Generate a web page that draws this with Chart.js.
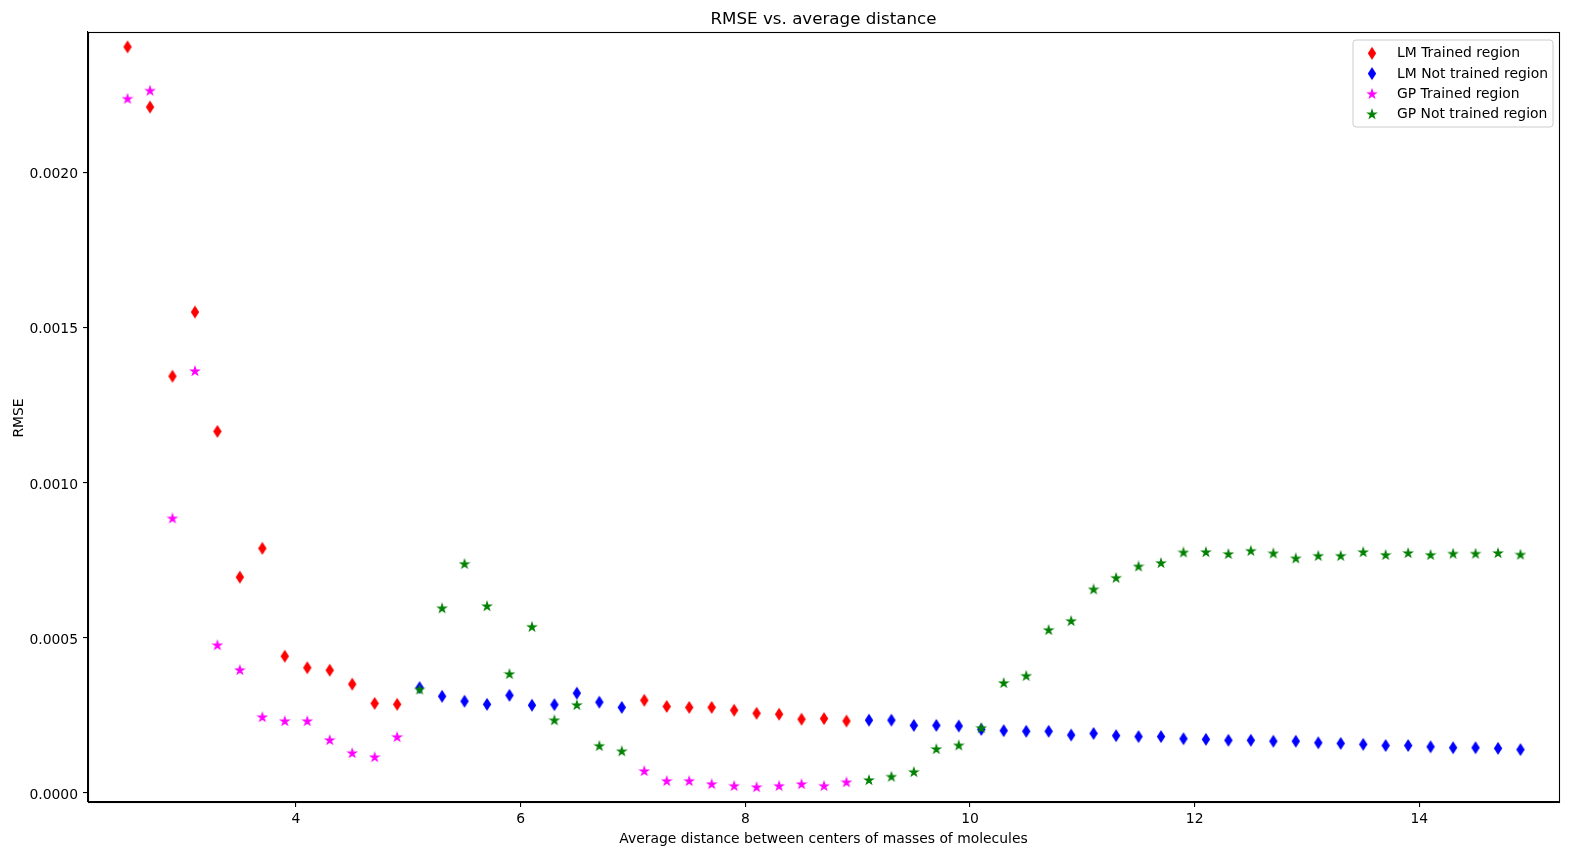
<!DOCTYPE html>
<html>
<head>
<meta charset="utf-8">
<script src="https://cdn.jsdelivr.net/npm/chart.js@4/dist/chart.umd.min.js"></script>
<style>
html,body{margin:0;padding:0;background:#fff;}
#wrap{width:1574px;height:855px;position:relative;}
</style>
</head>
<body>
<div id="wrap"><canvas id="c" width="1574" height="855"></canvas></div>
<script>
const xTrained = [2.5,2.7,2.9,3.1,3.3,3.5,3.7,3.9,4.1,4.3,4.5,4.7,4.9,7.1,7.3,7.5,7.7,7.9,8.1,8.3,8.5,8.7,8.9];
const xNotTrained = [5.1,5.3,5.5,5.7,5.9,6.1,6.3,6.5,6.7,6.9,9.1,9.3,9.5,9.7,9.9,10.1,10.3,10.5,10.7,10.9,11.1,11.3,11.5,11.7,11.9,12.1,12.3,12.5,12.7,12.9,13.1,13.3,13.5,13.7,13.9,14.1,14.3,14.5,14.7,14.9];

const lmTrained = [0.002406,0.002212,0.001344,0.001551,0.001166,0.000696,0.000789,0.000441,0.000404,0.000396,0.000351,0.000289,0.000286,0.000299,0.000279,0.000276,0.000276,0.000267,0.000257,0.000254,0.000238,0.00024,0.000232];
const lmNotTrained = [0.00034,0.000312,0.000296,0.000286,0.000315,0.000283,0.000285,0.000322,0.000293,0.000276,0.000235,0.000235,0.000218,0.000218,0.000216,0.000205,0.000201,0.000199,0.000199,0.000187,0.000192,0.000185,0.000182,0.000182,0.000175,0.000173,0.00017,0.00017,0.000167,0.000167,0.000162,0.00016,0.000157,0.000153,0.000153,0.000149,0.000146,0.000146,0.000144,0.00014];
const gpTrained = [0.002239,0.002265,0.000886,0.001361,0.000477,0.000397,0.000245,0.000232,0.000232,0.000171,0.000129,0.000116,0.000181,0.000071,0.000039,0.000039,0.000029,0.000023,0.000019,0.000023,0.000029,0.000023,0.000035];
const gpNotTrained = [0.000334,0.000596,0.000739,0.000603,0.000384,0.000536,0.000235,0.000284,0.000152,0.000135,0.000042,0.000053,0.000068,0.000142,0.000154,0.00021,0.000355,0.000378,0.000526,0.000555,0.000657,0.000694,0.000731,0.000742,0.000776,0.000777,0.000771,0.000781,0.000773,0.000757,0.000765,0.000765,0.000777,0.000768,0.000774,0.000768,0.000772,0.000772,0.000774,0.000769];

const seriesLabels = ['LM Trained region','LM Not trained region','GP Trained region','GP Not trained region'];
const xTicks = [4,6,8,10,12,14];
const yTicks = [0,0.0005,0.001,0.0015,0.002];

const FONT = "'DejaVu Sans', sans-serif";

function diamondImg(color){
  const c = document.createElement('canvas'); c.width = 10; c.height = 15;
  const g = c.getContext('2d');
  g.fillStyle = color;
  g.beginPath(); g.moveTo(5,0.9); g.lineTo(9.2,7.5); g.lineTo(5,14.1); g.lineTo(0.8,7.5); g.closePath(); g.fill();
  return c;
}
function starImg(color){
  const c = document.createElement('canvas'); c.width = 12; c.height = 12;
  const g = c.getContext('2d');
  g.fillStyle = color; g.strokeStyle = color; g.lineWidth = 1.1; g.lineJoin = 'miter';
  const cx = 6, cy = 6.3, R = 4.4, r = R*0.381966;
  g.beginPath();
  for (let i=0;i<10;i++){
    const a = -Math.PI/2 + i*Math.PI/5;
    const rr = (i%2===0)?R:r;
    const px = cx + rr*Math.cos(a), py = cy + rr*Math.sin(a);
    if(i===0) g.moveTo(px,py); else g.lineTo(px,py);
  }
  g.closePath(); g.fill(); g.stroke();
  return c;
}

const styles = [diamondImg('#ff0000'), diamondImg('#0000ff'), starImg('#ff00ff'), starImg('#008000')];
const colors = ['#ff0000','#0000ff','#ff00ff','#008000'];

function pts(xs, ys){ return xs.map((x,i)=>({x:x, y:ys[i]})); }

const datasets = [
  {label: seriesLabels[0], data: pts(xTrained, lmTrained), pointStyle: styles[0], order: 4},
  {label: seriesLabels[1], data: pts(xNotTrained, lmNotTrained), pointStyle: styles[1], order: 3},
  {label: seriesLabels[2], data: pts(xTrained, gpTrained), pointStyle: styles[2], order: 2},
  {label: seriesLabels[3], data: pts(xNotTrained, gpNotTrained), pointStyle: styles[3], order: 1}
].map((d,i)=>Object.assign(d,{backgroundColor: colors[i], borderColor: colors[i], pointRadius: 6, pointHoverRadius: 6, showLine:false}));

const framePlugin = {
  id: 'frame',
  afterDraw(chart){
    const ctx = chart.ctx, a = chart.chartArea;
    ctx.save();
    ctx.strokeStyle = '#000'; ctx.lineWidth = 1.1;
    ctx.strokeRect(Math.round(a.left)+0.5, Math.round(a.top)+0.5, Math.round(a.right-a.left), Math.round(a.bottom-a.top));
    // titles
    ctx.fillStyle = '#000';
    ctx.textAlign = 'center'; ctx.textBaseline = 'alphabetic';
    ctx.font = "16.7px " + FONT;
    ctx.fillText('RMSE vs. average distance', (a.left+a.right)/2, 23.5);
    ctx.font = "13.9px " + FONT;
    ctx.fillText('Average distance between centers of masses of molecules', (a.left+a.right)/2, 842.5);
    ctx.save();
    ctx.translate(22.7, (a.top+a.bottom)/2 + 1);
    ctx.rotate(-Math.PI/2);
    ctx.fillText('RMSE', 0, 0);
    ctx.restore();
    // legend
    const lx = 1353, ly = 40, lw = 200, lh = 87, rad = 3;
    ctx.beginPath();
    ctx.moveTo(lx+rad, ly); ctx.lineTo(lx+lw-rad, ly); ctx.arcTo(lx+lw, ly, lx+lw, ly+rad, rad);
    ctx.lineTo(lx+lw, ly+lh-rad); ctx.arcTo(lx+lw, ly+lh, lx+lw-rad, ly+lh, rad);
    ctx.lineTo(lx+rad, ly+lh); ctx.arcTo(lx, ly+lh, lx, ly+lh-rad, rad);
    ctx.lineTo(lx, ly+rad); ctx.arcTo(lx, ly, lx+rad, ly, rad); ctx.closePath();
    ctx.fillStyle = 'rgba(255,255,255,0.8)'; ctx.fill();
    ctx.strokeStyle = '#cccccc'; ctx.lineWidth = 1; ctx.stroke();
    const rowY = [53.3, 73.6, 93.8, 114.1];
    ctx.textAlign = 'left'; ctx.textBaseline = 'middle'; ctx.fillStyle = '#000';
    ctx.font = "13.9px " + FONT;
    chart.data.datasets.forEach((d,i)=>{
      const img = d.pointStyle;
      ctx.drawImage(img, 1372 - img.width/2, rowY[i] - img.height/2);
      ctx.fillText(d.label, 1397, rowY[i] + 0.5);
    });
    ctx.restore();
  }
};

new Chart(document.getElementById('c'), {
  type: 'scatter',
  data: { datasets },
  options: {
    responsive: false,
    animation: false,
    devicePixelRatio: 1,
    layout: { padding: { top: 32, right: 15, left: 0, bottom: 0 } },
    plugins: { legend: { display: false }, title: { display: false }, tooltip: { enabled: false } },
    scales: {
      x: {
        type: 'linear', position: 'bottom', min: 2.148, max: 15.243,
        afterBuildTicks: (s)=>{ s.ticks = xTicks.map(v=>({value:v})); },
        afterFit: (s)=>{ s.height = 53; },
        grid: { display: true, drawOnChartArea: false, drawTicks: true, tickLength: 5, color: '#000', lineWidth: 1.1 },
        border: { display: true, color: '#000', width: 1.1 },
        ticks: { color: '#000', font: { family: FONT, size: 13.9 }, padding: 4, maxRotation: 0, callback: (v)=>String(v) }
      },
      y: {
        type: 'linear', position: 'left', min: -0.000029, max: 0.002454,
        afterBuildTicks: (s)=>{ s.ticks = yTicks.map(v=>({value:v})); },
        afterFit: (s)=>{ s.width = 88; },
        grid: { display: true, drawOnChartArea: false, drawTicks: true, tickLength: 5, color: '#000', lineWidth: 1.1 },
        border: { display: true, color: '#000', width: 1.1 },
        ticks: { color: '#000', font: { family: FONT, size: 13.9 }, padding: 5, labelOffset: 2, callback: (v)=>Number(v).toFixed(4) }
      }
    }
  },
  plugins: [framePlugin]
});
</script>
</body>
</html>
